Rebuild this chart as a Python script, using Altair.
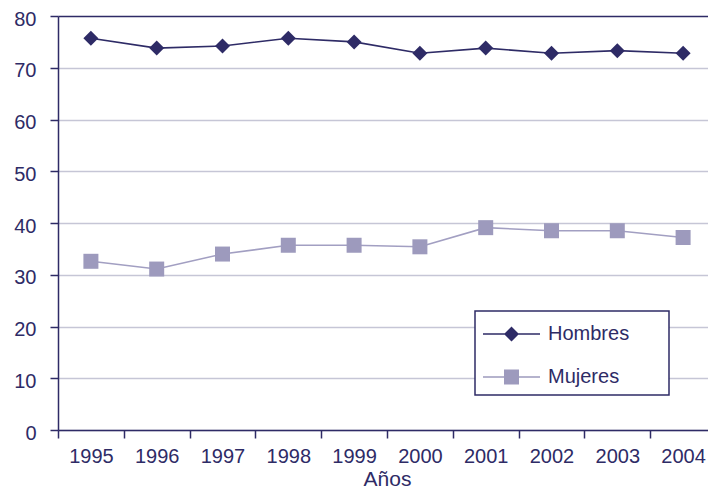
import altair as alt
import pandas as pd

years = ["1995", "1996", "1997", "1998", "1999", "2000", "2001", "2002", "2003", "2004"]
hombres = [75.7, 73.8, 74.2, 75.7, 75.0, 72.8, 73.8, 72.8, 73.3, 72.8]
mujeres = [32.6, 31.1, 34.0, 35.7, 35.7, 35.4, 39.1, 38.5, 38.5, 37.2]
series = ["Hombres", "Mujeres"]
colors = ["#2e2b66", "#9d9abd"]
line_colors = ["#2e2b66", "#a29fc2"]

NAVY = "#2e2b66"
GRID = "#c6c6d6"
FONT = "Liberation Sans"

rows = []
for y, h, m in zip(years, hombres, mujeres):
    rows.append({"year": y, "serie": "Hombres", "value": h})
    rows.append({"year": y, "serie": "Mujeres", "value": m})
df = pd.DataFrame(rows)

x_enc = alt.X("year:O", title="Años",
              scale=alt.Scale(type="band", paddingInner=0, paddingOuter=0, range=[0, 658]),
              axis=alt.Axis(labelAngle=0, tickBand="extent", tickSize=8,
                            labelPadding=8, titlePadding=2))
y_enc = alt.Y("value:Q", title=None,
              scale=alt.Scale(domain=[0, 80]),
              axis=alt.Axis(values=list(range(0, 81, 10)), tickSize=8,
                            labelPadding=14, labelOffset=3, grid=True,
                            gridColor={"condition": {"test": "datum.value === 80", "value": NAVY},
                                       "value": GRID}))

base = alt.Chart(df)
layers = []
for s, c, lc, shp in zip(series, colors, line_colors, ["diamond", "square"]):
    sub = base.transform_filter(alt.datum.serie == s)
    layers.append(sub.mark_line(color=lc, strokeWidth=1.6).encode(x=x_enc, y=y_enc))
    layers.append(sub.mark_point(shape=shp, filled=True, opacity=1, size=225, color=c)
                  .encode(x=x_enc, y=y_enc))

path_h = "M-1,-0.05H2.8V0.05H-1Z M0.4,0L0.9,-0.5L1.4,0L0.9,0.5Z"
path_m = "M-1,-0.05H2.8V0.05H-1Z M0.4,-0.5H1.4V0.5H0.4Z"

legend_layer = base.transform_filter("false").mark_point(filled=True, opacity=1).encode(
    x=x_enc, y=y_enc,
    color=alt.Color("serie:N", scale=alt.Scale(domain=series, range=colors),
                    legend=alt.Legend(title="\u2800\u2800", titleOrient="right",
                                      titleFont="DejaVu Sans", titleFontSize=20,
                                      titlePadding=0, titleColor="white",
                                      orient="none", legendX=417, legendY=295,
                                      padding=8, symbolSize=900, labelOffset=35,
                                      rowPadding=18, strokeColor=NAVY, fillColor="white",
                                      symbolStrokeWidth=0, symbolOpacity=1,
                                      labelFontSize=20, labelColor=NAVY, labelFont=FONT)),
    shape=alt.Shape("serie:N", scale=alt.Scale(domain=series, range=[path_h, path_m])),
)
layers.append(legend_layer)

chart = alt.layer(*layers).properties(
    width=650, height=414,
    padding={"left": 50, "top": 8, "right": 0, "bottom": 60},
    autosize="none",
    background="white",
).configure_view(stroke=None).configure_axis(
    labelFont=FONT, labelFontSize=20, labelColor=NAVY,
    titleFont=FONT, titleFontSize=21, titleColor=NAVY, titleFontWeight="normal",
    domainColor=NAVY, domainWidth=1.5, tickColor=NAVY, tickWidth=1.5,
    gridWidth=1.5,
).configure_legend(strokeWidth=1.5)

chart.save("out.html", embed_options={"renderer": "svg", "actions": False})
